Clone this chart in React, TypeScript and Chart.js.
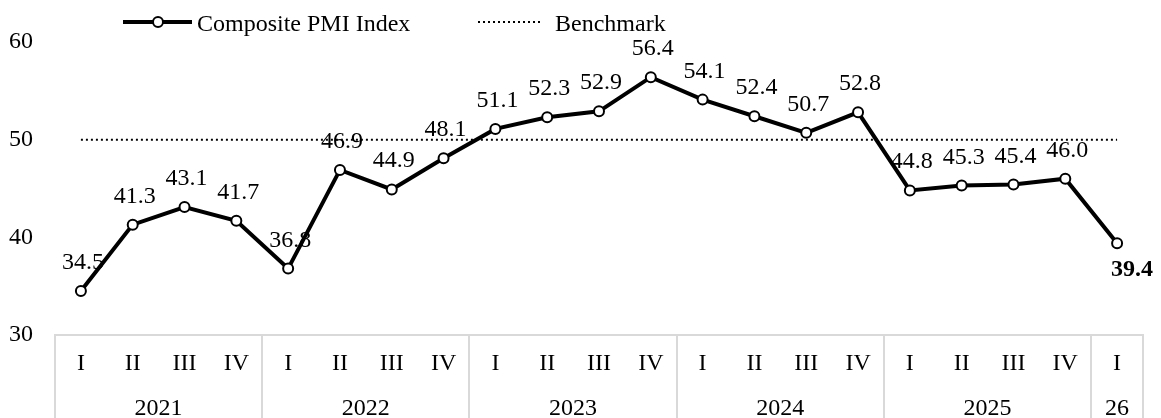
import React, { useEffect, useRef } from "react";
import { Chart, registerables } from "chart.js";

Chart.register(...registerables);

const quarterLabels = ["I", "II", "III", "IV", "I", "II", "III", "IV", "I", "II", "III", "IV", "I", "II", "III", "IV", "I", "II", "III", "IV", "I"];
const pmiValues = [34.5, 41.3, 43.1, 41.7, 36.8, 46.9, 44.9, 48.1, 51.1, 52.3, 52.9, 56.4, 54.1, 52.4, 50.7, 52.8, 44.8, 45.3, 45.4, 46.0, 39.4];
const benchmarkValues = quarterLabels.map(() => 50);
const yearLabels = ["2021", "2022", "2023", "2024", "2025", "26"];
const yearStarts = [0, 4, 8, 12, 16, 20];
const yearEnds = [3, 7, 11, 15, 19, 20];
const seriesNames = ["Composite PMI Index", "Benchmark"];
const yTicks = { min: 30, max: 60, step: 10 };

const FONT = "Liberation Serif";
const GRID = "#d9d9d9";

export default function App() {
  const ref = useRef<HTMLCanvasElement | null>(null);

  useEffect(() => {
    if (!ref.current) return;

    const overlay = {
      id: "overlay",
      afterDatasetsDraw(chart: any) {
        const ctx = chart.ctx;
        const meta = chart.getDatasetMeta(0);
        ctx.save();
        ctx.fillStyle = "#000";
        ctx.textBaseline = "alphabetic";
        ctx.textAlign = "center";
        meta.data.forEach((pt: any, i: number) => {
          const v = pmiValues[i];
          const last = i === pmiValues.length - 1;
          ctx.font = (last ? "bold " : "") + `24px "${FONT}"`;
          if (last) {
            ctx.fillText(v.toFixed(1), pt.x + 15, pt.y + 33);
          } else {
            ctx.fillText(v.toFixed(1), pt.x + 2, pt.y - 22);
          }
        });
        ctx.restore();
      },
      afterDraw(chart: any) {
        const ctx = chart.ctx;
        const xs = chart.scales.x;
        ctx.save();
        // year labels
        ctx.fillStyle = "#000";
        ctx.font = `24px "${FONT}"`;
        ctx.textAlign = "center";
        ctx.textBaseline = "alphabetic";
        yearLabels.forEach((lab, i) => {
          const x = (xs.getPixelForValue(yearStarts[i]) + xs.getPixelForValue(yearEnds[i])) / 2;
          ctx.fillText(lab, x, 415);
        });
        // legend
        ctx.strokeStyle = "#000";
        ctx.lineWidth = 4;
        ctx.beginPath();
        ctx.moveTo(123, 22);
        ctx.lineTo(192, 22);
        ctx.stroke();
        ctx.beginPath();
        ctx.arc(158, 22, 5, 0, Math.PI * 2);
        ctx.fillStyle = "#fff";
        ctx.fill();
        ctx.lineWidth = 2;
        ctx.stroke();
        ctx.fillStyle = "#000";
        ctx.textAlign = "left";
        ctx.fillText(seriesNames[0], 197, 31);
        ctx.setLineDash([2, 3]);
        ctx.lineWidth = 2;
        ctx.beginPath();
        ctx.moveTo(478, 22);
        ctx.lineTo(543, 22);
        ctx.stroke();
        ctx.setLineDash([]);
        ctx.fillText(seriesNames[1], 555, 31);
        ctx.restore();
      },
    };

    const chart = new Chart(ref.current, {
      type: "line",
      data: {
        labels: quarterLabels,
        datasets: [
          {
            label: seriesNames[0],
            data: pmiValues,
            borderColor: "#000",
            borderWidth: 4,
            pointRadius: 5,
            pointBorderWidth: 2,
            pointBackgroundColor: "#fff",
            pointBorderColor: "#000",
            tension: 0,
          },
          {
            label: seriesNames[1],
            data: benchmarkValues,
            borderColor: "#000",
            borderWidth: 2,
            borderDash: [2, 3],
            pointRadius: 0,
            tension: 0,
          },
        ],
      },
      options: {
        responsive: false,
        animation: false,
        layout: { padding: { top: 42, right: 18, left: 0, bottom: 0 } },
        plugins: { legend: { display: false }, tooltip: { enabled: false } },
        scales: {
          x: {
            type: "category",
            offset: true,
            grid: {
              display: true,
              offset: true,
              drawOnChartArea: false,
              drawTicks: true,
              tickLength: 83,
              lineWidth: 2,
              color: (c: any) => {
                if (c.index === undefined) return GRID;
                return c.index % 4 === 0 ? GRID : "rgba(0,0,0,0)";
              },
            },
            border: { display: true, color: GRID, width: 2 },
            ticks: {
              color: "#000",
              font: { family: FONT, size: 24 },
              padding: -68.5,
              maxRotation: 0,
              autoSkip: false,
            },
            afterFit: (s: any) => {
              s.height = 83;
            },
          },
          y: {
            min: yTicks.min,
            max: yTicks.max,
            grid: { display: false },
            border: { display: false },
            ticks: {
              stepSize: yTicks.step,
              color: "#000",
              font: { family: FONT, size: 24 },
              padding: 14,
            },
            afterFit: (s: any) => {
              s.width = 55;
            },
          },
        },
      },
      plugins: [overlay],
    });
    return () => chart.destroy();
  }, []);

  return (
    <div style={{ position: "absolute", left: 0, top: 0, width: 1161, height: 418, background: "#fff" }}>
      <canvas ref={ref} width={1161} height={418} style={{ display: "block" }} />
    </div>
  );
}
